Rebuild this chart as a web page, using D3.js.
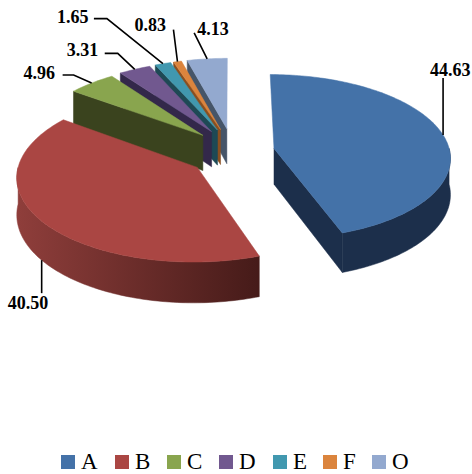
<!DOCTYPE html>
<html>
<head>
<meta charset="utf-8">
<script src="https://cdn.jsdelivr.net/npm/d3@7/dist/d3.min.js"></script>
<style>
html,body{margin:0;padding:0;background:#fff}
svg{display:block}
text{font-family:"Liberation Serif","Times New Roman",serif;fill:#000}
</style>
</head>
<body>
<svg id="chart" width="472" height="474"></svg>
<script>
// Share of each category, in percent
const categories = ["A", "B", "C", "D", "E", "F", "O"];
const values = [44.63, 40.50, 4.96, 3.31, 1.65, 0.83, 4.13];
const valueLabels = ["44.63", "40.50", "4.96", "3.31", "1.65", "0.83", "4.13"];
const topColors = ["#4472a8", "#aa4643", "#89a54e", "#71588f", "#4198af", "#db843d", "#93a9cf"];
const wallColors = ["#1c2f4b", "#8a3c3a", "#3a431e", "#33284a", "#1e4955", "#8a4f20", "#465568"];

// Leader routes for the value labels, as offsets from the point where each
// leader touches its slice, plus the label's own left/baseline offset.
const leaderOffsets = [
  [[0, -57]],
  [[0, 33]],
  [[-18, -8], [-29, -8]],
  [[-17, -16], [-30, -16]],
  [[-56, -45], [-69, -45]],
  [[-4, -32]],
  [[-13, -26]]
];
const labelOffsets = [[-13, -59], [-34, 49], [-68, -4], [-68, -13], [-106, -41], [-43, -31], [-10, -24]];
const anchorOnBase = [false, true, false, false, false, false, false];

// Legend layout
const legendX = [61, 115, 167, 219, 273, 323, 372];
const legendY = 455, legendSize = 14, legendGap = 6, legendBaseline = 468.9, legendFont = 23;

// Projection of the tilted pie: unit-disc coordinates go through a mild
// perspective divide and then onto the page.
const radius = 176, squash = 82, perspective = 0.1, thickness = 36;
const explodeU = 0.242, explodeV = 0.30;
const x = d3.scaleLinear().domain([0, 1]).range([232.2, 232.2 + radius]);
const y = d3.scaleLinear().domain([0, 1]).range([152.5, 152.5 + squash]);

function project(u, v, lifted) {
  const w = 1 - perspective * v;
  return [x(u / w), y(v / w) + (lifted ? 0 : thickness / w)];
}

const pie = d3.pie().sort(null).value(d => d).startAngle(0).endAngle(2 * Math.PI);
const slices = pie(values).map((s, i) => {
  const mid = (s.startAngle + s.endAngle) / 2;
  return {i, start: s.startAngle, end: s.endAngle, mid,
          ou: explodeU * Math.sin(mid), ov: -explodeV * Math.cos(mid)};
});

const rim = (s, a, lifted) =>
  project(s.ou + Math.sin(a), s.ov - Math.cos(a), lifted);
const apex = (s, lifted) => project(s.ou, s.ov, lifted);
const sweep = (a0, a1) => {
  const n = Math.max(2, Math.ceil(Math.abs(a1 - a0) / 0.02));
  return d3.range(n + 1).map(k => a0 + (a1 - a0) * k / n);
};
const closed = d3.line();

const svg = d3.select("#chart");

// Shading along the outer wall of the largest lower slice
const defs = svg.append("defs");
const wallShade = defs.append("linearGradient")
  .attr("id", "wall-shade").attr("gradientUnits", "userSpaceOnUse")
  .attr("x1", 17).attr("x2", 258).attr("y1", 0).attr("y2", 0);
wallShade.append("stop").attr("offset", 0).attr("stop-color", "#8f3e3b");
wallShade.append("stop").attr("offset", 1).attr("stop-color", "#461b19");

function drawSlice(s) {
  const g = svg.append("g");
  const wallFill = s.i === 1 ? "url(#wall-shade)" : wallColors[s.i];
  const face = (pts, fill) => g.append("path")
    .attr("d", closed(pts) + "Z").attr("fill", fill).attr("stroke", fill).attr("stroke-width", 0.5);

  // Cut faces turned towards the viewer
  [[s.start, -Math.sin(s.start)], [s.end, Math.sin(s.end)]].forEach(([a, facing]) => {
    if (facing > 1e-6) {
      face([apex(s, true), rim(s, a, true), rim(s, a, false), apex(s, false)], wallColors[s.i]);
    }
  });
  // Outer wall, for the part of the rim on the near side
  const a0 = Math.max(s.start, Math.PI / 2), a1 = Math.min(s.end, 3 * Math.PI / 2);
  if (a1 > a0) {
    const angles = sweep(a0, a1);
    face(angles.map(a => rim(s, a, true)).concat(angles.slice().reverse().map(a => rim(s, a, false))), wallFill);
  }
  // Top surface
  face([apex(s, true)].concat(sweep(s.start, s.end).map(a => rim(s, a, true))), topColors[s.i]);
}

// Far slices first so nearer ones overlap them
[6, 5, 4, 3, 2, 1, 0].forEach(i => drawSlice(slices[i]));

// Leaders and value labels
slices.forEach(s => {
  const touch = rim(s, s.mid, !anchorOnBase[s.i]);
  const route = [touch].concat(leaderOffsets[s.i].map(o => [touch[0] + o[0], touch[1] + o[1]]));
  svg.append("path").attr("d", d3.line()(route))
    .attr("fill", "none").attr("stroke", "#000").attr("stroke-width", 1.6);
  svg.append("text")
    .attr("x", touch[0] + labelOffsets[s.i][0]).attr("y", touch[1] + labelOffsets[s.i][1])
    .attr("font-size", 18).attr("font-weight", "bold").text(valueLabels[s.i]);
});

// Legend
categories.forEach((c, i) => {
  svg.append("rect").attr("x", legendX[i]).attr("y", legendY)
    .attr("width", legendSize).attr("height", legendSize).attr("fill", topColors[i]);
  svg.append("text").attr("x", legendX[i] + legendSize + legendGap).attr("y", legendBaseline)
    .attr("font-size", legendFont).text(c);
});
</script>
</body>
</html>
